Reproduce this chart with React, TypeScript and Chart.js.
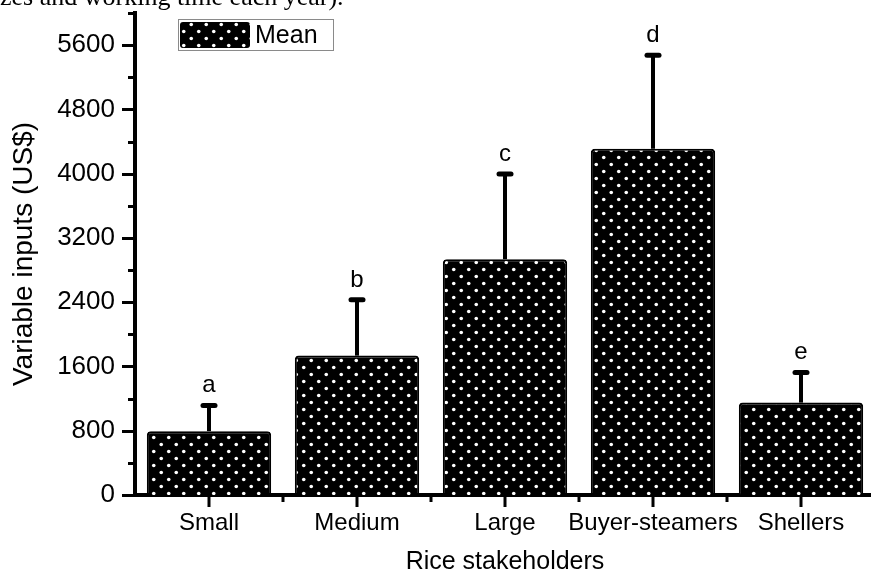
import React, { useEffect, useRef } from "react";
import { Chart, registerables } from "chart.js";

Chart.register(...registerables);

const categories = ["Small", "Medium", "Large", "Buyer-steamers", "Shellers"];
const meanValues = [795, 1735, 2935, 4310, 1150];
const upperValues = [1115, 2430, 3995, 5475, 1525];
const groupLetters = ["a", "b", "c", "d", "e"];
const yMax = 6000;
const yStep = 400;
const yLabelStep = 800;
const yLabelMax = 5600;
const seriesLabel = "Mean";
const xTitle = "Rice stakeholders";
const yTitle = "Variable inputs (US$)";
const topCaption = "zes and working time each year).";

const SANS = "'Liberation Sans', Arial, sans-serif";

function makePattern(ctx: CanvasRenderingContext2D) {
  const c = document.createElement("canvas");
  c.width = 15;
  c.height = 14;
  const g = c.getContext("2d")!;
  g.fillStyle = "#000";
  g.fillRect(0, 0, 15, 14);
  g.fillStyle = "#fff";
  g.beginPath();
  g.arc(3.75, 3.5, 1.8, 0, Math.PI * 2);
  g.fill();
  g.beginPath();
  g.arc(11.25, 10.5, 1.8, 0, Math.PI * 2);
  g.fill();
  return ctx.createPattern(c, "repeat") as CanvasPattern;
}

export default function App() {
  const ref = useRef<HTMLCanvasElement | null>(null);

  useEffect(() => {
    const canvas = ref.current!;
    const ctx = canvas.getContext("2d")!;
    const pattern = makePattern(ctx);

    const decor = {
      id: "decor",
      afterDatasetsDraw(chart: any) {
        const { ctx, scales } = chart;
        const x = scales.x;
        const y = scales.y;
        ctx.save();
        ctx.strokeStyle = "#000";
        ctx.fillStyle = "#000";
        meanValues.forEach((m, i) => {
          const cx = x.getPixelForValue(i);
          const yb = y.getPixelForValue(m);
          const yt = y.getPixelForValue(upperValues[i]);
          ctx.lineWidth = 4;
          ctx.lineCap = "butt";
          ctx.beginPath();
          ctx.moveTo(cx, yb);
          ctx.lineTo(cx, yt);
          ctx.stroke();
          ctx.lineWidth = 5;
          ctx.lineCap = "round";
          ctx.beginPath();
          ctx.moveTo(cx - 6, yt);
          ctx.lineTo(cx + 6, yt);
          ctx.stroke();
          ctx.font = "24px " + SANS;
          ctx.textAlign = "center";
          ctx.textBaseline = "alphabetic";
          ctx.fillText(groupLetters[i], cx, yt - 13);
        });
        ctx.restore();
      },
      afterDraw(chart: any) {
        const { ctx, scales, chartArea } = chart;
        const x = scales.x;
        const y = scales.y;
        ctx.save();
        ctx.strokeStyle = "#000";
        ctx.lineWidth = 3;
        ctx.lineCap = "butt";
        // y ticks
        for (let v = 0; v <= yMax; v += yStep) {
          const py = Math.round(y.getPixelForValue(v)) + 0.5;
          const len = v % yLabelStep === 0 ? 13 : 7;
          ctx.beginPath();
          ctx.moveTo(chartArea.left - len, py);
          ctx.lineTo(chartArea.left, py);
          ctx.stroke();
        }
        // x ticks
        const bottom = chartArea.bottom;
        categories.forEach((_, i) => {
          const px = x.getPixelForValue(i);
          ctx.beginPath();
          ctx.moveTo(px, bottom);
          ctx.lineTo(px, bottom + 12);
          ctx.stroke();
          if (i > 0) {
            const mid = (px + x.getPixelForValue(i - 1)) / 2;
            ctx.beginPath();
            ctx.moveTo(mid, bottom);
            ctx.lineTo(mid, bottom + 7);
            ctx.stroke();
          }
        });
        // legend
        ctx.lineWidth = 1;
        ctx.strokeStyle = "#8a8a8a";
        ctx.strokeRect(178.5, 19.5, 155, 31);
        ctx.fillStyle = pattern;
        ctx.beginPath();
        (ctx as any).roundRect(180, 22, 70, 26, 3);
        ctx.fill();
        ctx.fillStyle = "#000";
        ctx.font = "25px " + SANS;
        ctx.textAlign = "left";
        ctx.textBaseline = "middle";
        ctx.fillText(seriesLabel, 255, 36);
        // caption cut at top
        ctx.font = "26px 'Liberation Serif', 'Times New Roman', serif";
        ctx.textBaseline = "alphabetic";
        ctx.fillText(topCaption, 0, 5);
        ctx.restore();
      },
    };

    const chart = new Chart(canvas, {
      type: "bar",
      data: {
        labels: categories,
        datasets: [
          {
            label: seriesLabel,
            data: meanValues,
            backgroundColor: pattern,
            borderColor: "#000",
            borderWidth: 2,
            borderRadius: 4,
            borderSkipped: "bottom",
            barPercentage: 0.84,
            categoryPercentage: 1,
          },
        ],
      },
      options: {
        animation: false,
        responsive: false,
        devicePixelRatio: 1,
        layout: { padding: { top: 13, left: 0, right: 0, bottom: 0 } },
        plugins: {
          legend: { display: false },
          tooltip: { enabled: false },
        },
        scales: {
          x: {
            grid: { display: false, drawTicks: false },
            border: { display: true, color: "#000", width: 4 },
            ticks: {
              color: "#000",
              font: { family: SANS, size: 24 },
              padding: 14,
              maxRotation: 0,
              minRotation: 0,
              autoSkip: false,
            },
            title: {
              display: true,
              text: xTitle,
              color: "#000",
              font: { family: SANS, size: 25 },
              padding: { top: 0, bottom: 3 },
            },
            afterFit: (s: any) => {
              s.height = 85;
              s.paddingLeft = 0;
              s.paddingRight = 0;
            },
          },
          y: {
            min: 0,
            max: yMax,
            grid: { display: false, drawTicks: false },
            border: { display: true, color: "#000", width: 4 },
            ticks: {
              stepSize: yStep,
              color: "#000",
              font: { family: SANS, size: 26 },
              padding: 20,
              autoSkip: false,
              callback: (v: any) =>
                Number(v) % yLabelStep === 0 && Number(v) <= yLabelMax ? String(v) : "",
            },
            title: {
              display: true,
              text: yTitle,
              color: "#000",
              font: { family: SANS, size: 28 },
              padding: { top: 7, bottom: 0 },
            },
            afterFit: (s: any) => {
              s.width = 135;
              s.paddingTop = 0;
              s.paddingBottom = 0;
            },
          },
        },
      },
      plugins: [decor],
    });
    return () => chart.destroy();
  }, []);

  return (
    <div
      style={{
        position: "absolute",
        left: 0,
        top: 0,
        width: 871,
        height: 572,
        overflow: "hidden",
        background: "#fff",
      }}
    >
      <canvas ref={ref} width={875} height={580} style={{ display: "block" }} />
    </div>
  );
}
